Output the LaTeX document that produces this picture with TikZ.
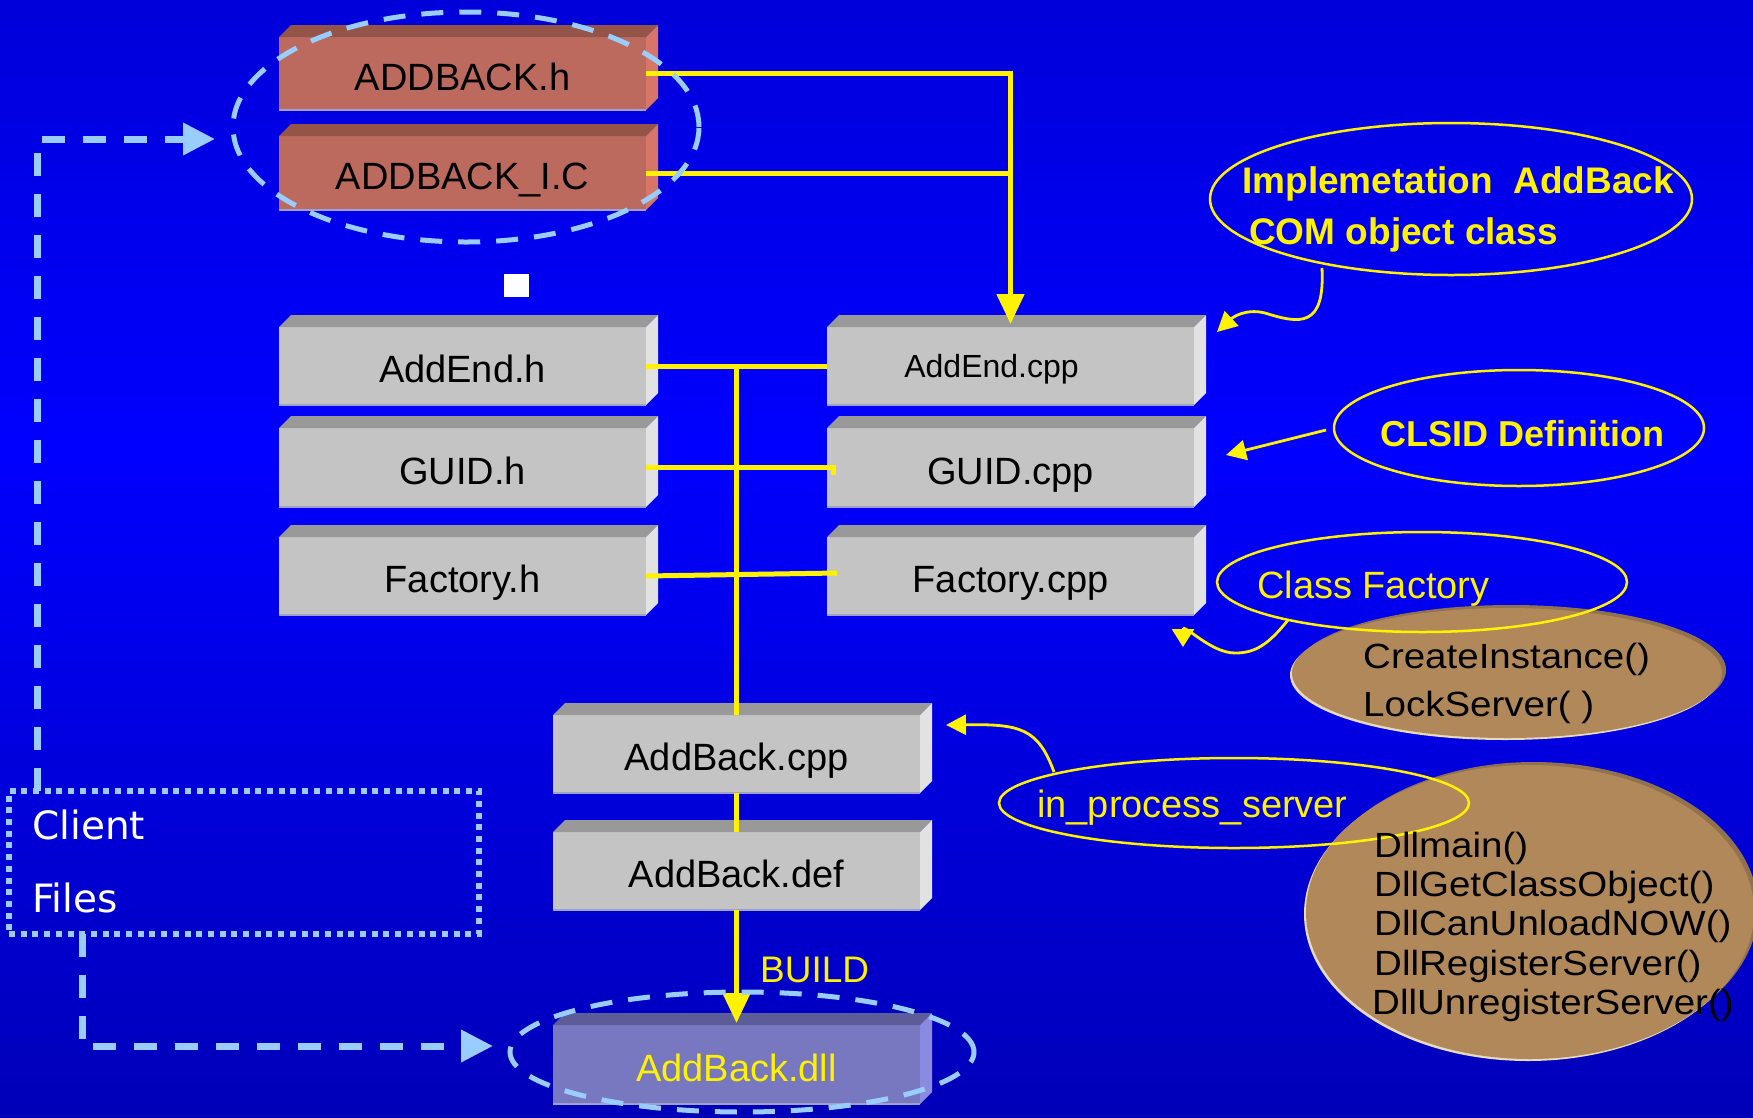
\documentclass[tikz,border=0pt]{standalone}
\usepackage{fontspec}
\setmainfont{Liberation Sans}
\newfontfamily\clientfont{DejaVu Sans}
\newfontfamily\widefont[FakeStretch=1.1]{Liberation Sans}
\usetikzlibrary{arrows.meta,shapes.geometric,calc}
\newcommand\myfs[1]{\fontsize{#1}{#1}\selectfont}
\definecolor{bgtop}{RGB}{0,0,170}
\definecolor{bgmid}{RGB}{0,0,255}
\definecolor{bgbot}{RGB}{0,0,125}
\pgfdeclareverticalshading{bgshade}{100bp}{color(0bp)=(bgbot); color(55bp)=(bgmid); color(100bp)=(bgtop)}
\definecolor{grayfront}{RGB}{196,196,196}
\definecolor{graytop}{RGB}{153,153,153}
\definecolor{grayside}{RGB}{226,226,226}
\definecolor{redfront}{RGB}{188,106,94}
\definecolor{redtop}{RGB}{148,84,72}
\definecolor{redside}{RGB}{215,118,104}
\definecolor{dllfront}{RGB}{120,120,192}
\definecolor{dlltop}{RGB}{92,92,152}
\definecolor{dllside}{RGB}{138,138,224}
\definecolor{edgec}{RGB}{160,160,200}
\definecolor{lblue}{RGB}{153,204,255}
\definecolor{brownmain}{RGB}{176,136,90}
\definecolor{browndark}{RGB}{146,114,76}
\definecolor{brownlight}{RGB}{232,218,188}
\newcommand\boxbevel[3]{%
  \fill[#2] (#1.north west) -- ++(12,-12) -- ($(#1.north east)+(12,-12)$) -- (#1.north east) -- cycle;
  \fill[#3] (#1.north east) -- ++(12,-12) -- ($(#1.south east)+(12,-12)$) -- (#1.south east) -- cycle;
  \draw[edgec, line width=1.5pt] (#1.south west) -- (#1.south east);
}
\begin{document}
\begin{tikzpicture}[x=1pt,y=-1pt,
  fbox/.style={rectangle, minimum width=367pt, minimum height=78pt, inner sep=0pt, outer sep=0pt, text height=33pt, text depth=0pt, font=\myfs{38}},
  yline/.style={draw=yellow, line width=5pt},
  yarrow/.style={-{Triangle[length=30pt,width=27pt]}},
  cline/.style={draw=yellow, line width=2.8pt},
  carrow/.style={-{Triangle[length=20pt,width=20pt]}},
  callout/.style={ellipse, draw=yellow, line width=2.5pt, inner sep=0pt, outer sep=0pt},
  bdash/.style={draw=lblue, line width=7pt, dash pattern=on 23pt off 18pt},
  barrow/.style={-{Triangle[length=32pt,width=31pt]}},
  ringdash/.style={ellipse, draw=lblue, line width=5pt, dash pattern=on 22pt off 16pt, inner sep=0pt},
  brownell/.style={ellipse, inner sep=0pt, outer sep=0pt},
  ytext/.style={text=yellow, inner sep=0pt, anchor=base west},
  btext/.style={text=black, inner sep=0pt, anchor=base west, font=\widefont\myfs{35}},
]
\useasboundingbox (0,0) rectangle (1753,1117);
\shade[shading=bgshade] (0,0) rectangle (1753,1117);

% file boxes
\node[fbox, fill=redfront, minimum height=73pt] (addh) at (462.5,73.5) {ADDBACK.h};
\node[fbox, fill=redfront, minimum height=74pt] (addic) at (462.5,173) {ADDBACK\_I.C};
\node[fbox, fill=grayfront] (endh) at (462.5,366) {AddEnd.h};
\node[fbox, fill=grayfront, minimum height=79pt] (guidh) at (462.5,467.5) {GUID.h};
\node[fbox, fill=grayfront] (facth) at (462.5,576) {Factory.h};
\node[fbox, fill=grayfront, font=\myfs{32}, text height=23pt] (endcpp) at (1010.5,366) {AddEnd.cpp\hspace*{38pt}};
\node[fbox, fill=grayfront, minimum height=79pt] (guidcpp) at (1010.5,467.5) {GUID.cpp};
\node[fbox, fill=grayfront] (factcpp) at (1010.5,576) {Factory.cpp};
\node[fbox, fill=grayfront] (abcpp) at (736.5,754) {AddBack.cpp};
\node[fbox, fill=grayfront] (abdef) at (736.5,871) {AddBack.def};
\node[fbox, fill=dllfront, minimum height=79pt, text=yellow] (abdll) at (736.5,1064.5) {AddBack.dll};
\boxbevel{addh}{redtop}{redside}
\boxbevel{addic}{redtop}{redside}
\boxbevel{endh}{graytop}{grayside}
\boxbevel{guidh}{graytop}{grayside}
\boxbevel{facth}{graytop}{grayside}
\boxbevel{endcpp}{graytop}{grayside}
\boxbevel{guidcpp}{graytop}{grayside}
\boxbevel{factcpp}{graytop}{grayside}
\boxbevel{abcpp}{graytop}{grayside}
\boxbevel{abdef}{graytop}{grayside}
\boxbevel{abdll}{dlltop}{dllside}

% yellow build connectors
\coordinate (bus) at (endh.east -| abcpp.north);
\draw[yline,yarrow] (addh.east) -| ([yshift=3pt]endcpp.north);
\draw[yline] (addic.east) -- (addic.east -| endcpp.north);
\draw[yline] (endh.east) -- (endcpp.west);
\draw[yline] (bus) -- (abcpp.north);
\draw[yline] (guidh.east) -- ([xshift=6pt]guidcpp.west) -- ([xshift=6pt,yshift=-7pt]guidcpp.west);
\draw[yline] (facth.east) -- ([xshift=10pt,yshift=3pt]factcpp.west);
\draw[yline] (abcpp.south) -- (abdef.north);
\draw[yline,yarrow] (abdef.south) -- ([yshift=2pt]abdll.north);
\node[ytext, font=\myfs{37}] (build) at (760,982) {BUILD};

% dashed rings
\node[ringdash, minimum width=466pt, minimum height=230pt] (ringA) at (466,127) {};
\node[ringdash, minimum width=464pt, minimum height=120pt] (ringB) at (742,1052) {};

% white square
\node[fill=white, minimum width=25pt, minimum height=23pt, inner sep=0pt] (sq) at (516.5,285.5) {};

% brown ellipses
\node[brownell, fill=browndark, minimum width=430pt, minimum height=130pt] (ciD) at (1511,670) {};
\node[brownell, fill=brownlight, minimum width=430pt, minimum height=130pt] (ciL) at (1505,675) {};
\node[brownell, fill=brownmain, minimum width=430pt, minimum height=130pt] (ciE) at (1507,673) {};
\node[brownell, fill=browndark, minimum width=448pt, minimum height=294pt] (dlD) at (1534,909) {};
\node[brownell, fill=brownlight, minimum width=448pt, minimum height=294pt] (dlL) at (1528,914) {};
\node[brownell, fill=brownmain, minimum width=448pt, minimum height=294pt] (dlE) at (1530,912) {};

% callout ellipses
\node[callout, minimum width=482pt, minimum height=152pt] (implE) at (1451,199) {};
\node[callout, minimum width=370pt, minimum height=116pt] (clsidE) at (1519,428) {};
\node[callout, minimum width=410pt, minimum height=100pt] (cfE) at (1422,582) {};
\node[callout, minimum width=470pt, minimum height=90pt] (ipsE) at (1234,803) {};

% texts
\node[ytext, font=\bfseries\myfs{37}] (implT1) at (1242,193) {Implemetation~~AddBack};
\node[ytext, font=\bfseries\myfs{37}] (implT2) at (1249,244) {COM object class};
\node[ytext, font=\bfseries\myfs{36}] (clsidT) at (1380,446) {CLSID Definition};
\node[ytext, font=\myfs{38}] (cfT) at (1257,598) {Class Factory};
\node[ytext, font=\myfs{38}] (ipsT) at (1037,817) {in\_process\_server};
\node[btext] (ciT1) at (1363,668) {CreateInstance()};
\node[btext] (ciT2) at (1363,716) {LockServer( )};
\node[btext] (dlT1) at (1374,857) {Dllmain()};
\node[btext] (dlT2) at (1374,896) {DllGetClassObject()};
\node[btext] (dlT3) at (1374,935) {DllCanUnloadNOW()};
\node[btext] (dlT4) at (1374,975) {DllRegisterServer()};
\node[btext] (dlT5) at (1372,1014) {DllUnregisterServer()};

% callout curves
\coordinate (c1s) at (1322,268);
\coordinate (c1t) at (1217,332);
\draw[cline,carrow] (c1s) .. controls (1325,328) and (1300,324) .. (1265,313) .. controls (1245,308) and (1232,318) .. (c1t);
\coordinate (c2s) at (1326,430);
\coordinate (c2t) at (1226,455);
\draw[cline,carrow] (c2s) -- (c2t);
\coordinate (c3s) at (1288,620);
\coordinate (c3t) at (1183,647);
\draw[cline,-{Triangle[length=18pt,width=22pt]}] (c3s) .. controls (1268,645) and (1255,653) .. (1235,653) .. controls (1210,653) and (1183,622) .. (c3t);
\coordinate (c4s) at (1054,772);
\coordinate (c4t) at (946,725);
\draw[cline,carrow] (c4s) .. controls (1038,728) and (1020,724) .. (c4t);

% client files
\node[draw=lblue, line width=6pt, dash pattern=on 6pt off 5.7pt, minimum width=470pt, minimum height=143pt, inner sep=0pt, outer sep=0pt] (client) at (244,862) {};
\node[anchor=base west, inner sep=0pt, text=white, font=\clientfont\myfs{39}] (clientT) at (32,839) {Client};
\node[anchor=base west, inner sep=0pt, text=white, font=\clientfont\myfs{39}] (filesT) at (32,912) {Files};
\coordinate (tipA) at (215,139);
\coordinate (tipB) at (493,1046);
\draw[bdash,barrow] ([xshift=28pt]client.north west) |- (tipA);
\draw[bdash,barrow] ([xshift=73pt]client.south west) |- (tipB);
\end{tikzpicture}
\end{document}
